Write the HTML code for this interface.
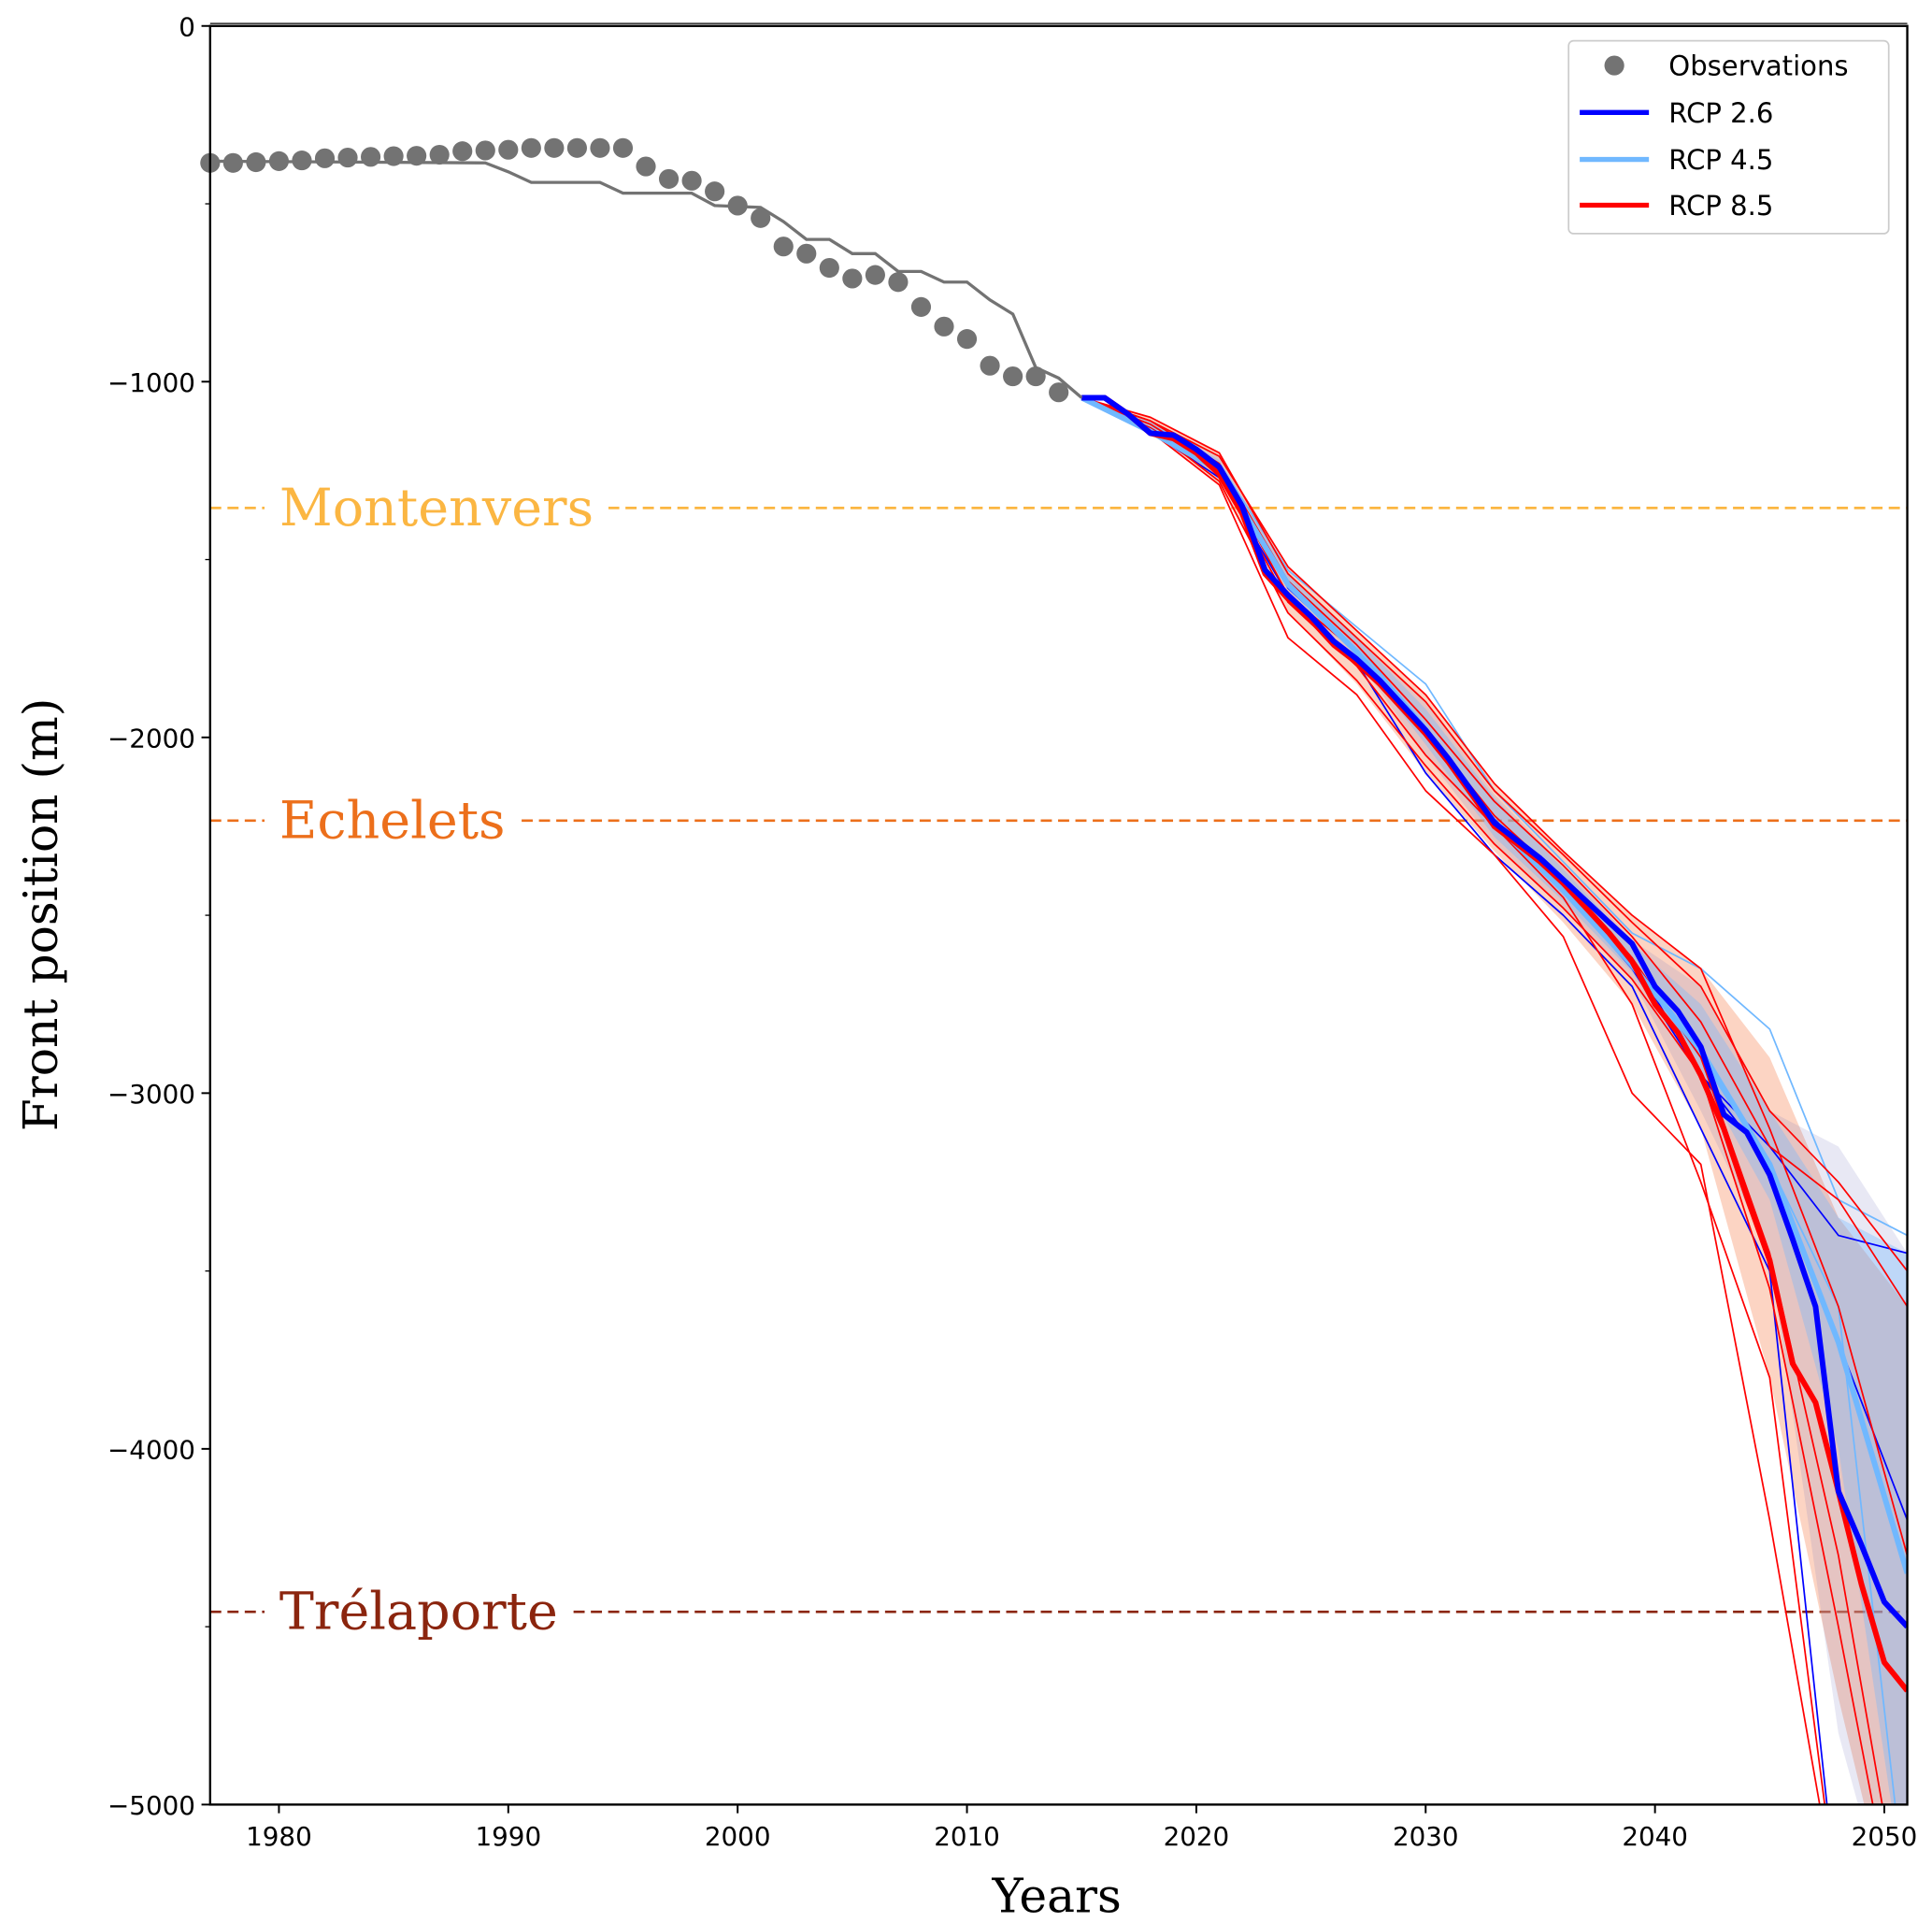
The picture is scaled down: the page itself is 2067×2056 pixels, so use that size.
<!DOCTYPE html>
<html><head><meta charset="utf-8"><style>
html,body{margin:0;padding:0;background:#fff}
svg{display:block}
text{font-family:"DejaVu Sans","Liberation Sans",sans-serif}
.serif{font-family:"DejaVu Serif","Liberation Serif",serif}
</style></head><body>
<svg id="chart" width="2067" height="2056" viewBox="0 0 1563 1555" preserveAspectRatio="none" xmlns="http://www.w3.org/2000/svg">
<defs><clipPath id="pc"><rect x="170" y="21" width="1373" height="1439"/></clipPath></defs>
<rect width="1563" height="1555" fill="#fff"/>
<g id="hlines"></g>
<g id="proj" clip-path="url(#pc)"></g>
<g id="obs"></g>
<g id="axes"></g>
<text class="serif" x="855" y="1547" font-size="38" text-anchor="middle">Years</text>
<text class="serif" x="0" y="0" font-size="38" text-anchor="middle" transform="translate(46,740) rotate(-90)">Front position (m)</text>
<g>
<rect x="1269" y="33" width="259" height="156" rx="4" fill="#fff" fill-opacity="0.85" stroke="#ccc" stroke-width="1.3"/>
<g><circle cx="1306" cy="53" r="8" fill="#737373"/><text x="1350" y="61" font-size="22">Observations</text></g>
<g><line x1="1278" x2="1334" y1="91" y2="91" stroke="#0000ff" stroke-width="4"/><text x="1350" y="99" font-size="22">RCP 2.6</text></g>
<g><line x1="1278" x2="1334" y1="129" y2="129" stroke="#70b8ff" stroke-width="4"/><text x="1350" y="137" font-size="22">RCP 4.5</text></g>
<g><line x1="1278" x2="1334" y1="166" y2="166" stroke="#ff0000" stroke-width="4"/><text x="1350" y="174" font-size="22">RCP 8.5</text></g>
</g>
</svg>
<script>
const obsYears=[1977,1978,1979,1980,1981,1982,1983,1984,1985,1986,1987,1988,1989,1990,1991,1992,1993,1994,1995,1996,1997,1998,1999,2000,2001,2002,2003,2004,2005,2006,2007,2008,2009,2010,2011,2012,2013,2014];
const obsValues=[-385,-385,-383,-380,-378,-372,-370,-368,-366,-365,-362,-352,-350,-348,-343,-343,-343,-343,-343,-395,-430,-435,-465,-505,-540,-620,-640,-680,-710,-700,-720,-790,-845,-880,-955,-985,-985,-1030];
const histYears=[1977,1989,1990,1991,1994,1995,1998,1999,2001,2002,2003,2004,2005,2006,2007,2008,2009,2010,2011,2012,2013,2014,2015];
const histValues=[-380,-385,-410,-440,-440,-470,-470,-505,-510,-550,-600,-600,-640,-640,-690,-690,-720,-720,-770,-810,-960,-990,-1045];
const yrs=[];for(let y=2015;y<=2051;y++)yrs.push(y);
const rcp26=[-1045,-1045,-1090,-1145,-1150,-1190,-1240,-1350,-1530,-1600,-1660,-1730,-1780,-1840,-1910,-1980,-2060,-2150,-2240,-2290,-2340,-2400,-2460,-2520,-2580,-2700,-2770,-2870,-3060,-3110,-3230,-3410,-3600,-4120,-4270,-4430,-4500];
const rcp85=[-1045,-1045,-1090,-1145,-1160,-1200,-1260,-1370,-1540,-1610,-1670,-1740,-1790,-1850,-1920,-1990,-2070,-2160,-2250,-2300,-2350,-2410,-2480,-2550,-2630,-2750,-2830,-2950,-3100,-3290,-3470,-3760,-3870,-4120,-4380,-4600,-4680];
const memYears=[2015,2018,2021,2024,2027,2030,2033,2036,2039,2042,2045,2048,2051];
const rcp45=[-1045,-1140,-1250,-1570,-1760,-1980,-2240,-2430,-2640,-2880,-3200,-3700,-4350];
const red1=[-1045,-1140,-1290,-1720,-1880,-2150,-2330,-2560,-3000,-3200,-4200,-5300,-5500];
const red2=[-1045,-1130,-1260,-1620,-1800,-2050,-2250,-2450,-2750,-3250,-3800,-5300,-5500];
const red3=[-1045,-1120,-1240,-1600,-1760,-1980,-2220,-2400,-2620,-2900,-3450,-4300,-5400];
const red4=[-1045,-1110,-1230,-1560,-1740,-1950,-2180,-2360,-2560,-2800,-3150,-3300,-3600];
const red5=[-1045,-1100,-1200,-1540,-1720,-1900,-2150,-2330,-2520,-2700,-3050,-3250,-3500];
const red6=[-1045,-1110,-1210,-1520,-1700,-1880,-2130,-2320,-2500,-2650,-3100,-3600,-4300];
const red7=[-1045,-1130,-1280,-1650,-1840,-2080,-2300,-2480,-2680,-2950,-3550,-4500,-5500];
const blue1=[-1045,-1130,-1250,-1580,-1760,-1980,-2230,-2420,-2620,-2950,-3150,-3400,-3450];
const blue2=[-1045,-1140,-1270,-1600,-1790,-2100,-2330,-2500,-2700,-3100,-3500,-5300,-5500];
const blue3=[-1045,-1130,-1250,-1570,-1760,-1990,-2240,-2430,-2650,-2950,-3200,-3700,-4200];
const lb1=[-1045,-1120,-1230,-1530,-1690,-1850,-2150,-2350,-2550,-2650,-2820,-3300,-3400];
const lb2=[-1045,-1120,-1240,-1560,-1740,-1970,-2230,-2420,-2640,-2900,-3200,-3600,-5300];
const redUp=[-1045,-1100,-1200,-1520,-1700,-1880,-2130,-2320,-2500,-2650,-2900,-3350,-3600];
const redLo=[-1045,-1140,-1290,-1650,-1850,-2100,-2320,-2520,-2750,-3100,-3800,-4700,-5500];
const blueUp=[-1045,-1110,-1210,-1540,-1720,-1900,-2160,-2360,-2570,-2700,-3050,-3150,-3450];
const blueLo=[-1045,-1140,-1270,-1590,-1780,-2050,-2300,-2480,-2680,-3050,-3450,-4800,-5500];
const lbUp=[-1045,-1110,-1220,-1540,-1720,-1920,-2170,-2370,-2580,-2750,-3050,-3350,-3450];
const lbLo=[-1045,-1130,-1260,-1580,-1770,-2020,-2280,-2460,-2660,-2950,-3300,-4000,-5300];
const landmarkNames=["Montenvers","Echelets","Trélaporte"];
const landmarkValues=[-1355,-2234,-4458];
const landmarkColors=["#fbb642","#ec6f1b","#8b250e"];
const xTicks=[1980,1990,2000,2010,2020,2030,2040,2050];
const yTicks=[0,-1000,-2000,-3000,-4000,-5000];
const yMinor=[-500,-1500,-2500,-3500,-4500];

const X0=170,X1=1543,Y0=21,Y1=1460;
const sx=v=>X0+(v-1977)/(2051-1977)*(X1-X0);
const sy=v=>Y0+(0-v)/5000*(Y1-Y0);
const NS="http://www.w3.org/2000/svg";
function mk(tag,attrs,parent){const e=document.createElementNS(NS,tag);for(const k in attrs)e.setAttribute(k,attrs[k]);parent.appendChild(e);return e;}
const pts=(xs,vs)=>xs.map((x,i)=>sx(x).toFixed(1)+","+sy(vs[i]).toFixed(1)).join(" ");

const hl=document.getElementById('hlines');
landmarkValues.forEach((v,i)=>{
  const l=mk('line',{x1:X0,x2:X1,y1:sy(v),y2:sy(v),stroke:landmarkColors[i],'stroke-width':2,'stroke-dasharray':'9,5'},hl);
  
  
  const t=mk('text',{x:226,y:sy(v)+14,'font-size':42,fill:landmarkColors[i],class:'serif'},hl);
  t.textContent=landmarkNames[i];
  
  
  const bb=t.getBBox();
  const r=mk('rect',{x:bb.x-12,y:sy(v)-3,width:bb.width+24,height:6,fill:'#fff'},hl);
  hl.insertBefore(r,t);
});

const pg=document.getElementById('proj');
function band(up,lo,color,op,name){
  const d=pts(memYears,up)+" "+pts(memYears.slice().reverse(),lo.slice().reverse());
  const p=mk('polygon',{points:d,fill:color,'fill-opacity':op},pg);
  
  
}
band(redUp,redLo,'#f8a07a',0.45,'band-rcp85');
band(blueUp,blueLo,'#8080c0',0.18,'band-rcp26');
band(lbUp,lbLo,'#70b8ff',0.35,'band-rcp45');
function line(xs,vs,color,w,name){
  const p=mk('polyline',{points:pts(xs,vs),fill:'none',stroke:color,'stroke-width':w,'stroke-linejoin':'round'},pg);
  
  
}
[lb1,lb2].forEach((m,i)=>line(memYears,m,'#70b8ff',1.3,'member-rcp45-'+i));
[blue1,blue2,blue3].forEach((m,i)=>line(memYears,m,'#0000ff',1.3,'member-rcp26-'+i));
[red1,red2,red3,red4,red5,red6,red7].forEach((m,i)=>line(memYears,m,'#ff0000',1.3,'member-rcp85-'+i));
line(memYears,rcp45,'#70b8ff',4.5,'median-rcp45');
line(yrs,rcp85,'#ff0000',4.5,'median-rcp85');
line(yrs,rcp26,'#0000ff',4.5,'median-rcp26');

const og=document.getElementById('obs');
const hp=mk('polyline',{points:pts(histYears,histValues),fill:'none',stroke:'#737373','stroke-width':2.5},og);


obsYears.forEach((y,i)=>{
  const c=mk('circle',{cx:sx(y),cy:sy(obsValues[i]),r:8,fill:'#737373'},og);
  
  
});

const ag=document.getElementById('axes');
const fr=mk('rect',{x:X0,y:Y0,width:X1-X0,height:Y1-Y0,fill:'none',stroke:'#000','stroke-width':1.8},ag);


mk('line',{x1:X0,x2:X1,y1:Y0-2,y2:Y0-2,stroke:'#000','stroke-width':1},ag);
xTicks.forEach(t=>{
  mk('line',{x1:sx(t),x2:sx(t),y1:Y1,y2:Y1+7,stroke:'#000','stroke-width':1.5},ag);
  const tx=mk('text',{x:sx(t),y:Y1+33,'font-size':21,'text-anchor':'middle'},ag);
  tx.textContent=t;
  
  
});
yTicks.forEach(t=>{
  mk('line',{x1:X0-7,x2:X0,y1:sy(t),y2:sy(t),stroke:'#000','stroke-width':1.5},ag);
  const tx=mk('text',{x:X0-12,y:sy(t)+8,'font-size':21,'text-anchor':'end'},ag);
  tx.textContent=t===0?'0':'\u2212'+Math.abs(t);
  
  
});
yMinor.forEach(t=>mk('line',{x1:X0-4,x2:X0,y1:sy(t),y2:sy(t),stroke:'#000','stroke-width':1},ag));
</script>
</body></html>
